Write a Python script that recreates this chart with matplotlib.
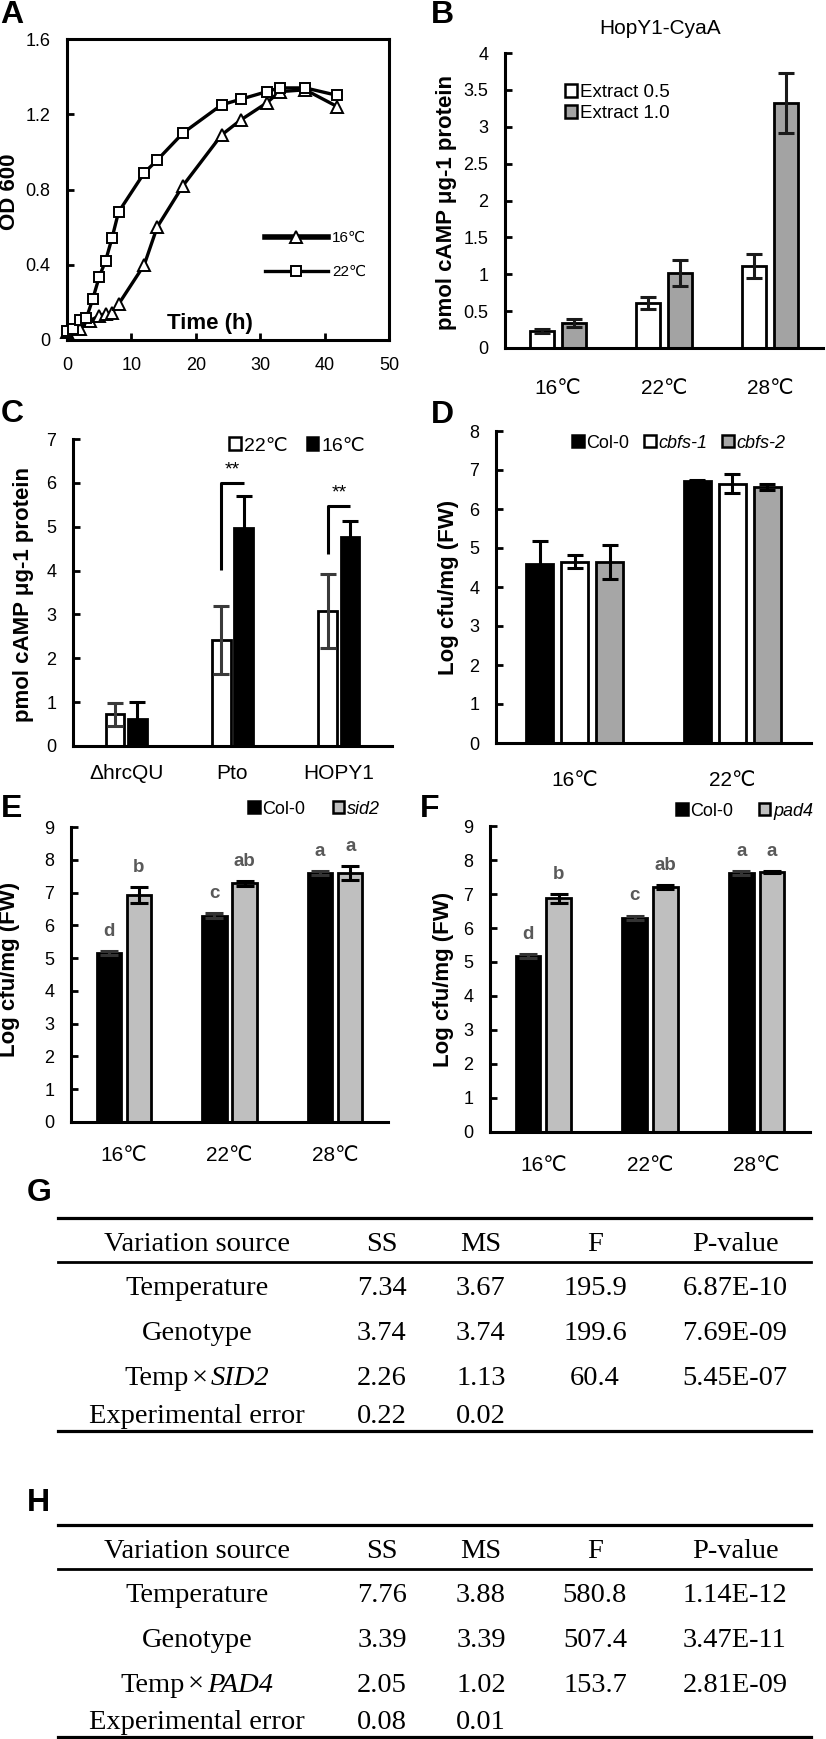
import matplotlib
matplotlib.use('Agg')
import matplotlib.pyplot as plt
from matplotlib.patches import Patch
from matplotlib.lines import Line2D
import numpy as np

# ---------------- data ----------------
# Panel A: growth curves
time16 = [0, 2, 3.5, 5, 6, 7, 8, 12, 14, 18, 24, 27, 31, 33, 37, 42]
od16 = [0.044, 0.06, 0.10, 0.13, 0.14, 0.145, 0.19, 0.40, 0.60, 0.82, 1.09, 1.17, 1.26, 1.32, 1.33, 1.24]
time22 = [0, 1, 2, 3, 4, 5, 6, 7, 8, 12, 14, 18, 24, 27, 31, 33, 37, 42]
od22 = [0.05, 0.057, 0.106, 0.115, 0.218, 0.335, 0.422, 0.543, 0.68, 0.889, 0.956, 1.10, 1.25, 1.28, 1.32, 1.34, 1.34, 1.30]

# Panel B
b_cats = ['16℃', '22℃', '28℃']
b_ext05 = [0.23, 0.61, 1.11]
b_ext05_err = [0.03, 0.08, 0.16]
b_ext10 = [0.34, 1.02, 3.32]
b_ext10_err = [0.05, 0.18, 0.41]

# Panel C
c_cats = ['ΔhrcQU', 'Pto', 'HOPY1']
c_22 = [0.72, 2.42, 3.08]
c_22_err = [0.26, 0.78, 0.84]
c_16 = [0.62, 4.97, 4.77]
c_16_err = [0.38, 0.74, 0.37]

# Panel D
d_cats = ['16℃', '22℃']
d_col0 = [4.58, 6.73]
d_col0_err = [0.59, 0.02]
d_cbfs1 = [4.65, 6.65]
d_cbfs1_err = [0.17, 0.24]
d_cbfs2 = [4.64, 6.57]
d_cbfs2_err = [0.43, 0.08]

# Panel E
e_cats = ['16℃', '22℃', '28℃']
e_col0 = [5.17, 6.30, 7.60]
e_col0_err = [0.06, 0.07, 0.06]
e_sid2 = [6.92, 7.28, 7.60]
e_sid2_err = [0.25, 0.07, 0.21]
e_let_col0 = ['d', 'c', 'a']
e_let_sid2 = ['b', 'ab', 'a']

# Panel F
f_cats = ['16℃', '22℃', '28℃']
f_col0 = [5.17, 6.30, 7.62]
f_col0_err = [0.06, 0.06, 0.06]
f_pad4 = [6.87, 7.21, 7.64]
f_pad4_err = [0.13, 0.05, 0.03]
f_let_col0 = ['d', 'c', 'a']
f_let_pad4 = ['b', 'ab', 'a']

# Tables G / H
tab_header = ['Variation source', 'SS', 'MS', 'F', 'P-value']
g_source = ['Temperature', 'Genotype', 'Temp×SID2', 'Experimental error']
g_ss = ['7.34', '3.74', '2.26', '0.22']
g_ms = ['3.67', '3.74', '1.13', '0.02']
g_f = ['195.9', '199.6', '60.4', '']
g_p = ['6.87E-10', '7.69E-09', '5.45E-07', '']
h_source = ['Temperature', 'Genotype', 'Temp×PAD4', 'Experimental error']
h_ss = ['7.76', '3.39', '2.05', '0.08']
h_ms = ['3.88', '3.39', '1.02', '0.01']
h_f = ['580.8', '507.4', '153.7', '']
h_p = ['1.14E-12', '3.47E-11', '2.81E-09', '']

# ---------------- style ----------------
W, H = 826, 1739
plt.rcParams['font.family'] = ['Liberation Sans', 'DejaVu Sans']

fig = plt.figure(figsize=(W / 100, H / 100), dpi=100)
renderer = fig.canvas.get_renderer()

def add_ax(x0, y0, x1, y1):
    return fig.add_axes([x0 / W, 1 - y1 / H, (x1 - x0) / W, (y1 - y0) / H])

def fx(x):
    return x / W

def fy(y):
    return 1 - y / H

SPW = 2.2
TICK_FS = 13
CAT_FS = 15
LAB_FS = 16
LEG_FS = 13

def style_bar_axes(ax, yticks, cat_labels, cat_pad, ylab, lab_xy, x0, x1, y0, y1):
    for s in ['top', 'right']:
        ax.spines[s].set_visible(False)
    for s in ['left', 'bottom']:
        ax.spines[s].set_linewidth(SPW)
    ax.set_yticks(yticks)
    ax.set_yticklabels([('%g' % t) for t in yticks])
    ax.tick_params(axis='y', direction='in', length=5, width=2, labelsize=TICK_FS, pad=12)
    ax.set_xticks(range(len(cat_labels)))
    ax.set_xticklabels(cat_labels)
    ax.tick_params(axis='x', length=0, labelsize=CAT_FS, pad=cat_pad)
    ax.set_ylabel(ylab, fontsize=LAB_FS, fontweight='bold', va='center', ha='center')
    ax.yaxis.set_label_coords((lab_xy[0] - x0) / (x1 - x0), (y1 - lab_xy[1]) / (y1 - y0))

def sq_handle(fc):
    return Patch(facecolor=fc, edgecolor='black', linewidth=1.8)

def panel_label(txt, x, y):
    fig.text(fx(x), fy(y), txt, fontsize=23, fontweight='bold', ha='center', va='center')

# ---------------- Panel A ----------------
ax0, ay0, ax1_, ay1 = 67, 39, 389, 340
axA = add_ax(ax0, ay0, ax1_, ay1)
axA.plot(time16, od16, '-', color='black', lw=2.4, marker='^', ms=8, mfc='white', mec='black', mew=1.4,
         clip_on=False, zorder=3)
axA.plot(time22, od22, '-', color='black', lw=2.4, marker='s', ms=7, mfc='white', mec='black', mew=1.4,
         clip_on=False, zorder=4)
axA.set_xlim(0, 50)
axA.set_ylim(0, 1.6)
axA.set_xticks([0, 10, 20, 30, 40, 50])
axA.set_yticks([0, 0.4, 0.8, 1.2, 1.6])
axA.set_yticklabels(['0', '0.4', '0.8', '1.2', '1.6'])
for s in axA.spines.values():
    s.set_linewidth(SPW)
    s.set_zorder(2)
axA.tick_params(direction='in', length=5, width=2, labelsize=TICK_FS, pad=12)
axA.set_ylabel('OD 600', fontsize=LAB_FS, fontweight='bold', va='center', ha='center')
axA.yaxis.set_label_coords((10 - ax0) / (ax1_ - ax0), (ay1 - 192) / (ay1 - ay0))
axA.set_xlabel('Time (h)', fontsize=LAB_FS, fontweight='bold', va='center', ha='center')
axA.xaxis.set_label_coords((210 - ax0) / (ax1_ - ax0), (ay1 - 324) / (ay1 - ay0))
hA = [Line2D([], [], color='black', lw=4, marker='^', ms=8, mfc='white', mec='black', mew=1.4),
      Line2D([], [], color='black', lw=2.4, marker='s', ms=7, mfc='white', mec='black', mew=1.4)]
axA.legend(hA, ['16℃', '22℃'], loc='center left', bbox_to_anchor=(fx(265), fy(255)),
           bbox_transform=fig.transFigure, frameon=False, fontsize=11, numpoints=1,
           handlelength=4.1, handletextpad=0.3, labelspacing=1.3, borderpad=0, borderaxespad=0)
panel_label('A', 12, 15)

# ---------------- Panel B ----------------
bx0, by0, bx1, by1 = 505, 53, 823, 348
axB = add_ax(bx0, by0, bx1, by1)
xb = np.arange(len(b_cats))
ekB = dict(ecolor='#1a1a1a', elinewidth=2.2, capsize=5.5, capthick=2.2)
axB.bar(xb - 0.15, b_ext05, 0.22, yerr=b_ext05_err, color='white', edgecolor='black', linewidth=2, error_kw=ekB)
axB.bar(xb + 0.15, b_ext10, 0.22, yerr=b_ext10_err, color='#a3a3a3', edgecolor='black', linewidth=2, error_kw=ekB)
axB.set_xlim(-0.5, 2.5)
axB.set_ylim(0, 4)
style_bar_axes(axB, [0, 0.5, 1, 1.5, 2, 2.5, 3, 3.5, 4], b_cats, 22,
               'pmol cAMP μg-1 protein', (446, 202), bx0, bx1, by0, by1)
axB.set_title('HopY1-CyaA', fontsize=15, x=(660 - bx0) / (bx1 - bx0), y=(by1 - 37) / (by1 - by0), va='center')
axB.legend([sq_handle('white'), sq_handle('#a3a3a3')], ['Extract 0.5', 'Extract 1.0'],
           loc='center left', bbox_to_anchor=(fx(565), fy(103)), bbox_transform=fig.transFigure,
           frameon=False, fontsize=13.5, handlelength=0.65, handleheight=0.65, handletextpad=0.15,
           labelspacing=0.2, borderpad=0, borderaxespad=0)
panel_label('B', 442, 15)

# ---------------- Panel C ----------------
cx0, cy0, cx1, cy1 = 73, 439, 392, 746
axC = add_ax(cx0, cy0, cx1, cy1)
xc = np.arange(len(c_cats))
off_c = 0.106
axC.bar(xc - off_c, c_22, 0.175, yerr=c_22_err, color='white', edgecolor='black', linewidth=2,
        error_kw=dict(ecolor='#3a3a3a', elinewidth=2.2, capsize=5.5, capthick=2.2))
axC.bar(xc + off_c, c_16, 0.175, yerr=c_16_err, color='black', edgecolor='black', linewidth=2,
        error_kw=dict(ecolor='black', elinewidth=2.2, capsize=5.5, capthick=2.2))
axC.set_xlim(-0.5, 2.5)
axC.set_ylim(0, 7)
style_bar_axes(axC, list(range(8)), c_cats, 13, 'pmol cAMP μg-1 protein', (24, 595), cx0, cx1, cy0, cy1)
# significance brackets
for i, (ylo, yhi) in zip([1, 2], [(4.02, 6.0), (4.37, 5.47)]):
    axC.plot([xc[i] - off_c, xc[i] - off_c, xc[i] + off_c], [ylo, yhi, yhi], color='black', lw=2.2,
             solid_capstyle='butt')
    axC.text(xc[i], yhi + 0.1, '**', ha='center', va='bottom', fontsize=14)
axC.legend([sq_handle('white'), sq_handle('black')], ['22℃', '16℃'], ncol=2,
           loc='center left', bbox_to_anchor=(fx(229), fy(446)), bbox_transform=fig.transFigure,
           frameon=False, fontsize=14, handlelength=0.6, handleheight=0.6, handletextpad=0.15,
           columnspacing=1.0, borderpad=0, borderaxespad=0)
panel_label('C', 12, 414)

# ---------------- Panel D ----------------
dx0, dy0, dx1, dy1 = 496, 431, 811, 743
axD = add_ax(dx0, dy0, dx1, dy1)
xd = np.arange(len(d_cats))
ekD = dict(ecolor='black', elinewidth=2.2, capsize=6, capthick=2.2)
axD.bar(xd - 0.222, d_col0, 0.173, yerr=d_col0_err, color='black', edgecolor='black', linewidth=2, error_kw=ekD)
axD.bar(xd, d_cbfs1, 0.173, yerr=d_cbfs1_err, color='white', edgecolor='black', linewidth=2, error_kw=ekD)
axD.bar(xd + 0.222, d_cbfs2, 0.173, yerr=d_cbfs2_err, color='#a6a6a6', edgecolor='black', linewidth=2, error_kw=ekD)
axD.set_xlim(-0.5, 1.5)
axD.set_ylim(0, 8)
style_bar_axes(axD, list(range(9)), d_cats, 20, 'Log cfu/mg (FW)', (448, 587), dx0, dx1, dy0, dy1)
legD = axD.legend([sq_handle('black'), sq_handle('white'), sq_handle('#a6a6a6')],
                  ['Col-0', 'cbfs-1', 'cbfs-2'], ncol=3,
                  loc='center left', bbox_to_anchor=(fx(572), fy(443)), bbox_transform=fig.transFigure,
                  frameon=False, fontsize=LEG_FS, handlelength=0.65, handleheight=0.65, handletextpad=0.15,
                  columnspacing=0.8, borderpad=0, borderaxespad=0)
for t in legD.get_texts()[1:]:
    t.set_style('italic')
panel_label('D', 442, 415)

# ---------------- Panel E / F ----------------
def growth_panel(x0, y0, x1, y1, col0, col0_err, mut, mut_err, let0, let1, cats, mutname,
                 lab_xy, cat_pad, leg_xy, colsp):
    ax = add_ax(x0, y0, x1, y1)
    x = np.arange(len(cats))
    off = 0.143
    ax.bar(x - off, col0, 0.23, yerr=col0_err, color='black', edgecolor='black', linewidth=2,
           error_kw=dict(ecolor='#333333', elinewidth=2.2, capsize=6.5, capthick=2.2))
    ax.bar(x + off, mut, 0.23, yerr=mut_err, color='#bfbfbf', edgecolor='black', linewidth=2,
           error_kw=dict(ecolor='black', elinewidth=2.2, capsize=6.5, capthick=2.2))
    ax.set_xlim(-0.5, 2.5)
    ax.set_ylim(0, 9)
    style_bar_axes(ax, list(range(10)), cats, cat_pad, 'Log cfu/mg (FW)', lab_xy, x0, x1, y0, y1)
    for i in range(len(cats)):
        ax.text(x[i] - off, col0[i] + col0_err[i] + 0.45, let0[i], ha='center', va='baseline',
                fontsize=13.5, fontweight='bold', color='#595959')
        ax.text(x[i] + off, mut[i] + mut_err[i] + 0.45, let1[i], ha='center', va='baseline',
                fontsize=13.5, fontweight='bold', color='#595959')
    leg = ax.legend([sq_handle('black'), sq_handle('#bfbfbf')], ['Col-0', mutname], ncol=2,
                    loc='center left', bbox_to_anchor=(fx(leg_xy[0]), fy(leg_xy[1])),
                    bbox_transform=fig.transFigure, frameon=False, fontsize=LEG_FS,
                    handlelength=0.65, handleheight=0.65, handletextpad=0.15,
                    columnspacing=colsp, borderpad=0, borderaxespad=0)
    leg.get_texts()[1].set_style('italic')
    return ax

growth_panel(71, 827, 388, 1122, e_col0, e_col0_err, e_sid2, e_sid2_err, e_let_col0, e_let_sid2,
             e_cats, 'sid2', (10, 969), 17, (248, 809), 1.5)
panel_label('E', 12, 809)
growth_panel(490, 826, 810, 1132, f_col0, f_col0_err, f_pad4, f_pad4_err, f_let_col0, f_let_pad4,
             f_cats, 'pad4', (443, 979), 17, (676, 811), 1.4)
panel_label('F', 430, 809)

# ---------------- Tables ----------------
col_x = [197, 382, 481, 595, 735]
row_base = [0.157, 0.363, 0.575, 0.786, 0.964]
line2 = 0.207
TFS = 20.5
SERIF = 'Liberation Serif'

def cell_text(ax, cx, y, txt):
    if '×' in txt:
        left, right = txt.split('×')
        parts = [(left, 'normal'), ('×', 'normal'), (right, 'italic')]
        gaps = [3, 3]
        arts = [ax.text(0, y, p, ha='left', va='baseline', fontsize=TFS, family=SERIF, style=st)
                for p, st in parts]
        widths = [a.get_window_extent(renderer).width for a in arts]
        total = sum(widths) + sum(gaps)
        pos = cx - total / 2
        for k, a in enumerate(arts):
            a.set_x(pos)
            pos += widths[k] + (gaps[k] if k < len(gaps) else 0)
    else:
        ax.text(cx, y, txt, ha='center', va='baseline', fontsize=TFS, family=SERIF)

def draw_table(y_top, y_bot, source, ss, ms, fv, pv):
    x0, x1 = 58, 811
    ax = add_ax(x0, y_top, x1, y_bot)
    ax.set_xlim(x0, x1)
    ax.set_ylim(1, 0)
    ax.axis('off')
    for y, lw in [(0, 2.3), (line2, 2.0), (1, 2.3)]:
        ax.axhline(y, color='black', lw=lw, clip_on=False)
    for cx, txt in zip(col_x, tab_header):
        cell_text(ax, cx, row_base[0], txt)
    for r in range(len(source)):
        for cx, txt in zip(col_x, [source[r], ss[r], ms[r], fv[r], pv[r]]):
            if txt:
                cell_text(ax, cx, row_base[r + 1], txt)

draw_table(1218, 1431, g_source, g_ss, g_ms, g_f, g_p)
panel_label('G', 39, 1193)
draw_table(1525, 1737, h_source, h_ss, h_ms, h_f, h_p)
panel_label('H', 38, 1503)

fig.savefig('out.png', dpi=100)
